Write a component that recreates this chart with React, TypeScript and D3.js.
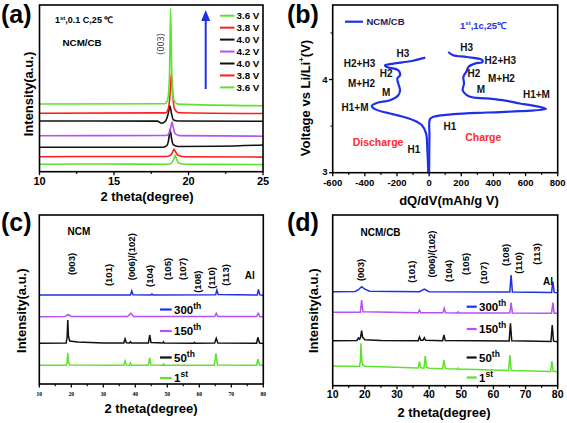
import React from 'react';
import * as d3 from 'd3';

const W = 567, H = 423;
const SANS = "'Liberation Sans', Arial, Helvetica, sans-serif";
const SERIF = "'Liberation Serif', 'Times New Roman', serif";
const GREEN = '#5de22d', RED = '#ff1c1c', BLACK = '#111111', PURPLE = '#b552f2', BLUE = '#1f30e8';

type P = [number, number];

// ---------- Panel (a): in-situ XRD, (003) region ----------
const aTickVals = [10, 15, 20, 25];
const aMinorVals = [12.5, 17.5, 22.5];
const aLegendLabels = ['3.6 V', '3.8 V', '4.0 V', '4.2 V', '4.0 V', '3.8 V', '3.6 V'];
const aLegendColors = [GREEN, RED, BLACK, PURPLE, BLACK, RED, GREEN];
// bottom to top
const a36dis: P[] = [[10, 7.4], [14, 7.7], [18.6, 7.5], [18.85, 8.6], [19.0, 12], [19.1, 16.7], [19.2, 12.2], [19.35, 8.6], [19.7, 7.5], [22, 7.3], [25, 7.1]];
const a38dis: P[] = [[10, 15], [14, 15.2], [18.55, 15.2], [18.8, 16.5], [18.95, 20], [19.03, 22.7], [19.12, 20.2], [19.3, 16.4], [19.7, 15], [25, 14.6]];
const a40dis: P[] = [[10, 24.4], [18.3, 24.5], [18.55, 26.2], [18.68, 33], [18.76, 42.4], [18.86, 33.5], [18.98, 27], [19.3, 25.2], [22, 25.5], [25, 26.7]];
const a42: P[] = [[10, 36], [18.5, 36.2], [18.7, 38.2], [18.82, 45], [18.9, 50], [18.98, 44], [19.1, 38.2], [19.4, 36.1], [25, 35.5]];
const a40ch: P[] = [[10, 50.7], [17.9, 50.6], [18.2, 48.4], [18.45, 50.5], [18.62, 57], [18.76, 65.7], [18.86, 58], [18.98, 52], [19.3, 50.7], [25, 50.4]];
const a38ch: P[] = [[10, 58.4], [18.45, 58.8], [18.62, 62], [18.75, 75], [18.85, 98.4], [18.95, 76], [19.05, 63], [19.35, 59], [25, 58.2]];
const a36ch: P[] = [[10, 67.7], [18.4, 68], [18.6, 72], [18.72, 95], [18.8, 163.4], [18.88, 96], [18.98, 73], [19.3, 67.6], [25, 66]];
const aCurves = [a36dis, a38dis, a40dis, a42, a40ch, a38ch, a36ch];
const aCurveColors = [GREEN, RED, BLACK, PURPLE, BLACK, RED, GREEN];

// ---------- Panel (b): dQ/dV ----------
const bXTickVals = [-600, -400, -200, 0, 200, 400, 600, 800];
const bXMinorVals = [-500, -300, -100, 100, 300, 500, 700];
const bYTickVals = [3, 4];
const bYMinorVals = [3.5, 4.5];
const bDischarge: P[] = [[-24, 4.235], [-108, 4.199], [-223, 4.171], [-275, 4.153], [-264, 4.135], [-192, 4.1], [-181, 4.046], [-198, 4.01], [-192, 3.957], [-181, 3.885], [-192, 3.832], [-243, 3.778], [-326, 3.749], [-357, 3.717], [-337, 3.682], [-202, 3.618], [-98, 3.564], [-46, 3.511], [-19, 3.422], [-11, 3.243], [-5, 3.0]];
const bCharge: P[] = [[0, 3.0], [2, 3.4], [5, 3.575], [26, 3.6], [150, 3.628], [358, 3.646], [565, 3.66], [727, 3.685], [648, 3.72], [565, 3.743], [483, 3.771], [358, 3.797], [275, 3.807], [234, 3.832], [209, 3.885], [217, 3.957], [213, 4.028], [234, 4.092], [244, 4.135], [285, 4.171], [333, 4.188], [327, 4.214], [234, 4.242], [150, 4.26], [119, 4.295]];
const bPhaseText = ['H3', 'H2+H3', 'H2', 'M+H2', 'M', 'H1+M', 'H1', 'H1', 'H3', 'H2+H3', 'H2', 'M+H2', 'M', 'H1+M'];
const bPhaseX = [-163, -433, -268, -421, -268, -461, -94, 130, 233, 443, 279, 450, 322, 668];
const bPhaseV = [4.28, 4.174, 4.06, 3.96, 3.86, 3.70, 3.244, 3.494, 4.346, 4.2, 4.06, 4.013, 3.895, 3.834];

// ---------- Panels (c), (d): XRD after cycling ----------
const cdTickVals = [10, 20, 30, 40, 50, 60, 70, 80];
const cdMinorVals = [15, 25, 35, 45, 55, 65, 75];
const cycleLabels = ['300', '150', '50', '1'];
const cycleSups = ['th', 'th', 'th', 'st'];
const cycleColors = [BLUE, PURPLE, BLACK, GREEN];
const peakLabels = ['(003)', '(101)', '(006)/(102)', '(104)', '(105)', '(107)', '(108)', '(110)', '(113)'];

const c1st: P[] = [[10, 18.7], [18.4, 18.8], [18.7, 22], [18.9, 31.3], [19.1, 22], [19.5, 19], [36.4, 18.8], [36.8, 23], [37.2, 19], [38.2, 18.8], [38.5, 21], [38.8, 18.8], [44.1, 18.8], [44.5, 26.3], [44.9, 19], [48.6, 18.8], [48.8, 20], [49, 18.8], [64.7, 18.8], [65.2, 30.7], [65.7, 19], [77.9, 18.8], [78.3, 25], [78.8, 19], [80, 18.6]];
const c50th: P[] = [[10, 40.7], [18.4, 41], [18.7, 47], [18.9, 64], [19.1, 48], [19.5, 43], [22, 42], [30, 41], [36.4, 41], [36.8, 45], [37.2, 41.2], [38.2, 41], [38.5, 42.3], [38.8, 41], [44.1, 41], [44.5, 49], [44.9, 41.5], [48.6, 41], [48.8, 42], [49, 41], [58.3, 40.8], [58.5, 41.6], [58.7, 40.8], [64.8, 41], [65.3, 45.7], [65.8, 41], [77.9, 40.8], [78.3, 46.7], [78.8, 41], [80, 40.5]];
const c150th: P[] = [[10, 67.3], [18, 67.4], [19, 69.7], [20, 67.6], [37.6, 67.5], [38.6, 70.7], [39.5, 67.6], [64.8, 67.4], [65.3, 70.7], [65.8, 67.5], [77.9, 67.4], [78.4, 70.7], [78.9, 67.4], [80, 67.2]];
const c300th: P[] = [[10, 89], [38.5, 89.1], [38.9, 93], [39.3, 89.2], [44.9, 89.1], [45.2, 90], [45.5, 89.1], [65.1, 89.2], [65.5, 94], [65.9, 89.4], [78.1, 89.1], [78.5, 94.7], [78.9, 89.1], [80, 88.8]];
const cCurves = [c300th, c150th, c50th, c1st];
const cPeakX = [20.1, 31.5, 38.9, 44.3, 50.2, 54.9, 59.5, 63.9, 68.3];
const cPeakI = [120, 109, 127.3, 108.2, 115, 115, 102.3, 106, 109];

const d1st: P[] = [[10, 19.7], [18.3, 19.1], [18.6, 24], [18.8, 42.4], [19.0, 27], [19.3, 21], [20, 19.5], [36.6, 17.6], [37, 24], [37.4, 18], [38.4, 17.6], [38.8, 29.7], [39.2, 18.5], [40, 17.4], [44.2, 17], [44.6, 25.7], [45, 17.5], [46, 16.9], [48.8, 16.6], [49, 17.6], [49.2, 16.6], [64.7, 15.3], [65.1, 30.7], [65.5, 15.8], [66, 15.2], [77.8, 14.2], [78.2, 24.7], [78.6, 14.5], [80, 14]];
const d50th: P[] = [[10, 45], [17.5, 45.2], [18, 47.7], [18.4, 46.5], [18.7, 49], [19, 55], [19.3, 48.5], [20, 46], [25, 45.3], [36.6, 45], [37, 48.7], [37.4, 45.5], [38.1, 45.4], [38.5, 48], [38.9, 45.4], [44.2, 45], [44.6, 50.7], [45, 45.3], [64.9, 44.6], [65.3, 62.4], [65.7, 45], [77.9, 44.3], [78.3, 60.7], [78.7, 44.5], [80, 44]];
const d150th: P[] = [[10, 73.4], [18.6, 73.5], [19, 85.7], [19.4, 74], [36.6, 73], [37, 75.7], [37.4, 73], [44.3, 72.9], [44.7, 77.4], [45.1, 73], [48.8, 72.8], [49, 73.8], [49.2, 72.8], [65.1, 72.7], [65.5, 83], [65.9, 72.8], [78.1, 72.5], [78.5, 83], [78.9, 72.5], [80, 72.4]];
const d300th: P[] = [[10, 94], [17, 94.3], [18, 96], [19, 99], [20, 96.5], [21.5, 94.5], [37, 94], [38.5, 96.7], [40, 94], [65.1, 93.6], [65.5, 110.7], [65.9, 93.8], [78.1, 93.3], [78.5, 104], [78.9, 93.3], [80, 93]];
const dCurves = [d300th, d150th, d50th, d1st];
const dPeakX = [18.5, 34.4, 40.6, 46, 51.2, 56.9, 63.9, 67.7, 73.5];
const dPeakI = [115.7, 114, 131.7, 114.9, 121.7, 112.7, 130.7, 122.7, 131.7];

// ---------- scales ----------
const xa = d3.scaleLinear().domain([10, 25]).range([39.5, 263]);
const ya = d3.scaleLinear().domain([0, 166.7]).range([171.7, 5]);
const xb = d3.scaleLinear().domain([-600, 800]).range([332.7, 557.7]);
const yb = d3.scaleLinear().domain([3, 4.8]).range([172.7, 5]);
const xc = d3.scaleLinear().domain([10, 80]).range([39.3, 263.3]);
const yc = d3.scaleLinear().domain([0, 169]).range([384, 215]);
const xd = d3.scaleLinear().domain([10, 80]).range([332.7, 557.7]);
const yd = d3.scaleLinear().domain([0, 170.7]).range([385.7, 215]);

function lineFor(xs: d3.ScaleLinear<number, number>, ys: d3.ScaleLinear<number, number>, curve: d3.CurveFactory = d3.curveMonotoneX) {
  return d3.line<P>().x(d => xs(d[0])).y(d => ys(d[1])).curve(curve);
}

function Frame({ xs, ys }: { xs: d3.ScaleLinear<number, number>; ys: d3.ScaleLinear<number, number> }) {
  const [x0, x1] = xs.range();
  const [y0, y1] = ys.range();
  return <rect x={x0} y={y1} width={x1 - x0} height={y0 - y1} fill="none" stroke="#000" strokeWidth={1.6} />;
}

function XAxis({ xs, y, major, minor, fontSize, font, labelY, weight = 'bold' }: any) {
  return (
    <g>
      {major.map((v: number) => <line key={'M' + v} x1={xs(v)} x2={xs(v)} y1={y} y2={y + 3.5} stroke="#000" strokeWidth={1.3} />)}
      {minor.map((v: number) => <line key={'m' + v} x1={xs(v)} x2={xs(v)} y1={y} y2={y + 2.2} stroke="#000" strokeWidth={1.1} />)}
      {major.map((v: number) => (
        <text key={'t' + v} x={xs(v)} y={labelY} textAnchor="middle" dominantBaseline="central" fontFamily={font} fontWeight={weight} fontSize={fontSize}>{v}</text>
      ))}
    </g>
  );
}

function Sup({ base, sup, x, y, size, supSize, color = '#000', anchor = 'start' }: any) {
  return (
    <text x={x} y={y} fontFamily={SANS} fontWeight="bold" fontSize={size} fill={color} textAnchor={anchor}>
      {base}<tspan dy={-size * 0.42} fontSize={supSize}>{sup}</tspan>
    </text>
  );
}

export default function App() {
  const la = lineFor(xa, ya);
  const lb = lineFor(xb, yb, d3.curveCatmullRom.alpha(0.5));
  const lc = lineFor(xc, yc, d3.curveLinear);
  const ld = lineFor(xd, yd, d3.curveLinear);

  const aLegY0 = 15.7, aLegStep = 11.95;
  const cLegY = [309.5, 331, 357.5, 378];
  const dLegY = [306.7, 329, 357.5, 377.5];

  return (
    <svg width={W} height={H} viewBox={`0 0 ${W} ${H}`} style={{ position: 'absolute', left: 0, top: 0, background: '#fff' }} fontFamily={SANS}>
      <rect x={0} y={0} width={W} height={H} fill="#fff" />

      {/* ===== (a) ===== */}
      <text x={1} y={23} fontSize={25} fontWeight="bold">(a)</text>
      {aCurves.map((c, i) => <path key={i} d={la(c) || ''} fill="none" stroke={aCurveColors[i]} strokeWidth={1.6} />)}
      <Frame xs={xa} ys={ya} />
      <XAxis xs={xa} y={171.7} major={aTickVals} minor={aMinorVals} fontSize={11} font={SANS} labelY={181} />
      <text x={147} y={196} textAnchor="middle" dominantBaseline="central" fontSize={13} fontWeight="bold">2 theta(degree)</text>
      <text transform="translate(28,94) rotate(-90)" textAnchor="middle" dominantBaseline="central" fontSize={13} fontWeight="bold">Intensity(a.u.)</text>
      <text x={55} y={23} fontSize={9} fontWeight="bold">1<tspan dy={-3.5} fontSize={6}>st</tspan><tspan dy={3.5}>,0.1 C,25 ℃</tspan></text>
      <text x={62.5} y={46} fontSize={9.8} fontWeight="bold">NCM/CB</text>
      <text transform="translate(160,44) rotate(-90)" textAnchor="middle" dominantBaseline="central" fontSize={9} fill="#333" fontFamily="'Noto Sans CJK SC', sans-serif">（003）</text>
      <line x1={205.7} x2={205.7} y1={89} y2={18} stroke={BLUE} strokeWidth={2} />
      <path d="M205.7,10 L201.2,21 L210.2,21 Z" fill={BLUE} />
      {aLegendLabels.map((t, i) => (
        <g key={i}>
          <line x1={220} x2={234.5} y1={aLegY0 + i * aLegStep} y2={aLegY0 + i * aLegStep} stroke={aLegendColors[i]} strokeWidth={2} />
          <text x={236.5} y={aLegY0 + i * aLegStep} dominantBaseline="central" fontSize={9.8} fontWeight="bold">{t}</text>
        </g>
      ))}

      {/* ===== (b) ===== */}
      <text x={287} y={23} fontSize={25} fontWeight="bold">(b)</text>
      <path d={lb(bDischarge) || ''} fill="none" stroke={BLUE} strokeWidth={2.2} />
      <path d={lb(bCharge) || ''} fill="none" stroke={BLUE} strokeWidth={2.2} />
      <Frame xs={xb} ys={yb} />
      <XAxis xs={xb} y={172.7} major={bXTickVals} minor={bXMinorVals} fontSize={9.5} font={SANS} labelY={182.5} />
      {bYTickVals.map(v => (
        <g key={v}>
          <line x1={332.7} x2={329} y1={yb(v)} y2={yb(v)} stroke="#000" strokeWidth={1.3} />
          <text x={327.5} y={yb(v) - (v === 3 ? 1.5 : 0)} textAnchor="end" dominantBaseline="central" fontSize={9.5} fontWeight="bold">{v}</text>
        </g>
      ))}
      {bYMinorVals.map(v => <line key={v} x1={332.7} x2={330.5} y1={yb(v)} y2={yb(v)} stroke="#000" strokeWidth={1.1} />)}
      <text x={449} y={200} textAnchor="middle" dominantBaseline="central" fontSize={13} fontWeight="bold">dQ/dV(mAh/g V)</text>
      <text transform="translate(305,98) rotate(-90)" textAnchor="middle" dominantBaseline="central" fontSize={13} fontWeight="bold">
        Voltage vs Li/Li<tspan dy={-4} fontSize={8}>+</tspan><tspan dy={4}>(V)</tspan>
      </text>
      <line x1={345} x2={363} y1={21.7} y2={21.7} stroke={BLUE} strokeWidth={2.2} />
      <text x={366.5} y={21.7} dominantBaseline="central" fontSize={9.5} fontWeight="bold" fill="#1b1b5a">NCM/CB</text>
      <text x={460} y={28.5} fontSize={9.5} fontWeight="bold" fill={BLUE}>1<tspan dy={-3.5} fontSize={6}>st</tspan><tspan dy={3.5}>,1c,25℃</tspan></text>
      {bPhaseText.map((t, i) => (
        <text key={i} x={xb(bPhaseX[i])} y={yb(bPhaseV[i])} textAnchor="middle" dominantBaseline="central" fontSize={10} fontWeight="bold" fill="#111">{t}</text>
      ))}
      <text x={xb(-318)} y={yb(3.333)} textAnchor="middle" dominantBaseline="central" fontSize={10.5} fontWeight="bold" fill="#ff2a2a">Discharge</text>
      <text x={xb(337)} y={yb(3.386)} textAnchor="middle" dominantBaseline="central" fontSize={10.5} fontWeight="bold" fill="#ff2a2a">Charge</text>

      {/* ===== (c) ===== */}
      <text x={1} y={231} fontSize={25} fontWeight="bold">(c)</text>
      {cCurves.map((c, i) => <path key={i} d={lc(c) || ''} fill="none" stroke={cycleColors[i]} strokeWidth={1.5} />)}
      <Frame xs={xc} ys={yc} />
      <XAxis xs={xc} y={384} major={cdTickVals} minor={cdMinorVals} fontSize={5.5} font={SERIF} labelY={394} />
      <text x={151} y={408.5} textAnchor="middle" dominantBaseline="central" fontSize={13} fontWeight="bold">2 theta(degree)</text>
      <text transform="translate(21.7,310.7) rotate(-90)" textAnchor="middle" dominantBaseline="central" fontSize={13} fontWeight="bold">Intensity(a.u.)</text>
      <text x={xc(22.4)} y={yc(152.3)} textAnchor="middle" dominantBaseline="central" fontSize={10} fontWeight="bold">NCM</text>
      {peakLabels.map((t, i) => (
        <text key={i} transform={`translate(${xc(cPeakX[i])},${yc(cPeakI[i])}) rotate(-90)`} textAnchor="middle" dominantBaseline="central" fontSize={9.5} fontWeight="bold">{t}</text>
      ))}
      <text x={xc(75.8)} y={yc(109)} textAnchor="middle" dominantBaseline="central" fontSize={10} fontWeight="bold">Al</text>
      {cycleLabels.map((t, i) => (
        <g key={i}>
          <line x1={160} x2={171.7} y1={cLegY[i]} y2={cLegY[i]} stroke={cycleColors[i]} strokeWidth={2.2} />
          <Sup base={t} sup={cycleSups[i]} x={174} y={cLegY[i] + 4} size={11.5} supSize={8.5} />
        </g>
      ))}

      {/* ===== (d) ===== */}
      <text x={287} y={231} fontSize={25} fontWeight="bold">(d)</text>
      {dCurves.map((c, i) => <path key={i} d={ld(c) || ''} fill="none" stroke={cycleColors[i]} strokeWidth={1.5} />)}
      <Frame xs={xd} ys={yd} />
      <XAxis xs={xd} y={385.7} major={cdTickVals} minor={cdMinorVals} fontSize={10.5} font={SANS} labelY={394} />
      <text x={444} y={412.5} textAnchor="middle" dominantBaseline="central" fontSize={13} fontWeight="bold">2 theta(degree)</text>
      <text transform="translate(313,310.8) rotate(-90)" textAnchor="middle" dominantBaseline="central" fontSize={13} fontWeight="bold">Intensity(a.u.)</text>
      <text x={xd(24.9)} y={yd(153)} textAnchor="middle" dominantBaseline="central" fontSize={10} fontWeight="bold">NCM/CB</text>
      {peakLabels.map((t, i) => (
        <text key={i} transform={`translate(${xd(dPeakX[i])},${yd(dPeakI[i])}) rotate(-90)`} textAnchor="middle" dominantBaseline="central" fontSize={9.5} fontWeight="bold">{t}</text>
      ))}
      <text x={xd(77)} y={yd(104)} textAnchor="middle" dominantBaseline="central" fontSize={10} fontWeight="bold">Al</text>
      {cycleLabels.map((t, i) => (
        <g key={i}>
          <line x1={466.7} x2={476.7} y1={dLegY[i]} y2={dLegY[i]} stroke={cycleColors[i]} strokeWidth={2.2} />
          <Sup base={t} sup={cycleSups[i]} x={479} y={dLegY[i] + 4} size={11.5} supSize={8.5} />
        </g>
      ))}
    </svg>
  );
}
